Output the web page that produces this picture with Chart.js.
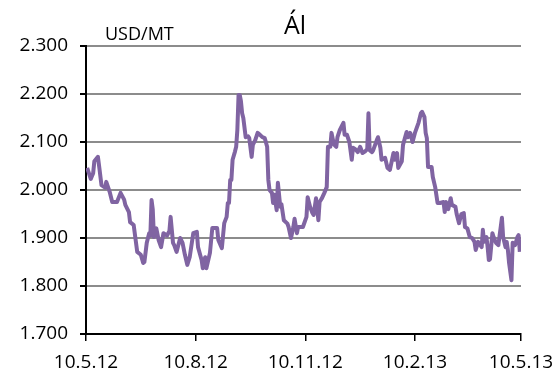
<!DOCTYPE html>
<html>
<head>
<meta charset="utf-8">
<script src="https://cdn.jsdelivr.net/npm/chart.js@4/dist/chart.umd.min.js"></script>
<style>
  html, body { margin: 0; padding: 0; background: #fff; }
  #wrap { width: 558px; height: 374px; }
</style>
</head>
<body>
<div id="wrap"><canvas id="alChart" width="558" height="374"></canvas></div>
<script>
// dagar frá 10.5.12 og verð á áli (USD/MT)
var days = [1, 4, 6, 7, 10, 11, 13, 16, 17, 20, 22, 26, 29, 32, 33, 36, 37, 40, 43, 46,
  48, 49, 51, 53, 54, 55, 56, 57, 59, 61, 63, 65, 68, 70, 71, 73, 74, 76, 79, 81,
  83, 85, 87, 90, 93, 94, 97, 98, 100, 101, 104, 106, 110, 111, 114, 116, 118, 119, 120, 121,
  122, 123, 125, 126, 127, 128, 129, 130, 131, 132, 134, 136, 137, 139, 140, 142, 144, 146, 148, 150,
  152, 153, 154, 156, 157, 158, 160, 161, 163, 164, 166, 169, 170, 172, 174, 175, 177, 178, 180, 182,
  185, 186, 188, 190, 191, 193, 195, 196, 198, 200, 202, 203, 205, 206, 208, 210, 211, 213, 216, 217,
  219, 221, 223, 224, 226, 228, 230, 232, 234, 236, 237, 238, 240, 241, 244, 245, 247, 248, 251, 253,
  255, 258, 259, 261, 262, 265, 266, 269, 270, 272, 274, 276, 279, 281, 282, 284, 285, 286, 287, 290,
  291, 293, 295, 297, 300, 301, 302, 304, 306, 307, 310, 311, 313, 315, 317, 318, 320, 322, 324, 326,
  327, 329, 332, 333, 334, 336, 337, 338, 339, 341, 342, 344, 346, 347, 349, 350, 352, 353, 354, 355,
  357, 358, 359, 360, 362, 363, 364];
var prices = [2046, 2023, 2035, 2060, 2069, 2050, 2010, 2005, 2017, 1995, 1975, 1975, 1994, 1980, 1969, 1954, 1933, 1927, 1871, 1865,
  1848, 1850, 1890, 1910, 1905, 1979, 1960, 1902, 1920, 1895, 1881, 1910, 1905, 1915, 1944, 1890, 1885, 1871, 1900, 1890,
  1865, 1844, 1860, 1910, 1913, 1881, 1854, 1837, 1860, 1837, 1869, 1921, 1921, 1896, 1879, 1931, 1944, 1973, 1973, 2021,
  2021, 2063, 2080, 2090, 2125, 2198, 2198, 2185, 2160, 2150, 2110, 2112, 2108, 2069, 2094, 2104, 2119, 2115, 2110, 2108,
  2090, 2021, 2000, 1994, 1973, 1990, 1958, 2015, 1965, 1970, 1937, 1930, 1923, 1900, 1923, 1940, 1910, 1923, 1923, 1923,
  1944, 1985, 1965, 1952, 1948, 1983, 1937, 1975, 1983, 1994, 2006, 2090, 2090, 2119, 2095, 2090, 2110, 2125, 2140, 2115,
  2115, 2100, 2063, 2088, 2085, 2079, 2090, 2077, 2080, 2085, 2160, 2083, 2079, 2083, 2104, 2110, 2088, 2063, 2067, 2046,
  2042, 2077, 2063, 2077, 2046, 2060, 2094, 2121, 2110, 2119, 2100, 2119, 2140, 2160, 2163, 2152, 2119, 2108, 2048, 2048,
  2027, 2006, 1973, 1973, 1975, 1954, 1975, 1960, 1983, 1969, 1965, 1950, 1931, 1950, 1952, 1923, 1920, 1902, 1900, 1892,
  1875, 1892, 1881, 1917, 1892, 1902, 1881, 1854, 1856, 1910, 1902, 1890, 1885, 1904, 1942, 1902, 1881, 1892, 1875, 1848,
  1812, 1890, 1885, 1885, 1902, 1906, 1871];

var tickDays = [0, 92, 184, 276, 365];
var tickLabels = ['10.5.12', '10.8.12', '10.11.12', '10.2.13', '10.5.13'];
var yMin = 1700, yMax = 2300, yStep = 100;

var points = days.map(function(d, i) { return { x: d, y: prices[i] }; });

// íslenskur þúsundaskilur: 2300 -> 2.300
function fmt(n) {
  return String(n).replace(/\B(?=(\d{3})+$)/g, '.');
}

// titill og eining
var textPlugin = {
  id: 'textPlugin',
  afterDraw: function(chart) {
    var ctx = chart.ctx;
    ctx.save();
    ctx.fillStyle = '#000';
    ctx.textBaseline = 'alphabetic';
    ctx.font = '25px "Open Sans"';
    ctx.textAlign = 'center';
    ctx.fillText('Ál', 295, 34);
    ctx.font = '18px "Open Sans"';
    ctx.textAlign = 'left';
    ctx.fillText('USD/MT', 105, 40);
    ctx.restore();
  }
};

var ctx = document.getElementById('alChart').getContext('2d');
var chart = new Chart(ctx, {
  type: 'line',
  data: {
    datasets: [{
      data: points,
      borderColor: '#8064A2',
      borderWidth: 4,
      pointRadius: 0,
      tension: 0,
      borderJoinStyle: 'round',
      fill: false
    }]
  },
  options: {
    responsive: false,
    animation: false,
    layout: { padding: { top: 46, right: 37, left: 0, bottom: 0 } },
    plugins: {
      legend: { display: false },
      tooltip: { enabled: false }
    },
    scales: {
      x: {
        type: 'linear',
        min: 0,
        max: 365,
        afterBuildTicks: function(scale) {
          scale.ticks = tickDays.map(function(v) { return { value: v }; });
        },
        afterFit: function(scale) {
          scale.height = 40;
          scale.paddingLeft = 0;
          scale.paddingRight = 0;
        },
        ticks: {
          autoSkip: false,
          maxRotation: 0,
          color: '#000',
          padding: 10,
          font: { family: 'Open Sans', size: 19 },
          callback: function(v) { return tickLabels[tickDays.indexOf(v)]; }
        },
        grid: {
          drawOnChartArea: false,
          drawTicks: true,
          tickLength: 7,
          color: '#000',
          lineWidth: 1.5
        },
        border: { color: '#000', width: 2 }
      },
      y: {
        min: yMin,
        max: yMax,
        afterFit: function(scale) {
          scale.width = 86;
          scale.paddingTop = 0;
          scale.paddingBottom = 0;
        },
        ticks: {
          stepSize: yStep,
          color: '#000',
          padding: 12,
          font: { family: 'Open Sans', size: 19 },
          callback: function(v) { return fmt(v); }
        },
        grid: {
          color: '#8c8c8c',
          lineWidth: 2,
          tickColor: '#000',
          tickLength: 6
        },
        border: { color: '#000', width: 2 }
      }
    }
  },
  plugins: [textPlugin]
});
</script>
</body>
</html>
